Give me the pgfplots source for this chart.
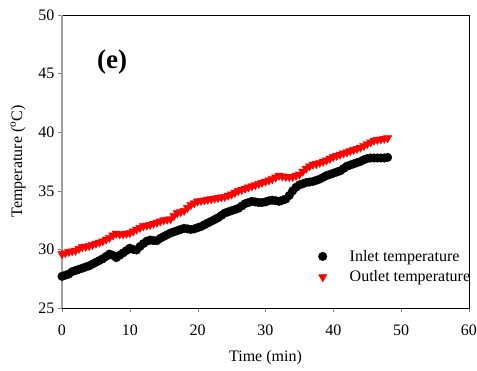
\documentclass[border=0pt]{standalone}
\usepackage{pgfplots}
\pgfplotsset{compat=1.18}
\usepackage{fontspec}
\setmainfont{Liberation Serif}
\begin{document}
\begin{tikzpicture}[x=1pt,y=1pt]
\useasboundingbox (-62,-62) rectangle (415,308);
\begin{axis}[name=ax, at={(0,0)}, anchor=south west,
  scale only axis, width=407pt, height=293pt,
  xmin=0, xmax=60, ymin=25, ymax=50,
  xtick={0,10,...,60}, ytick={25,30,...,50},
  tick align=outside, major tick length=4pt,
  xtick pos=bottom, ytick pos=left,
  /pgf/number format/assume math mode=true,
  tick label style={font=\fontsize{16}{18}\selectfont},
  xticklabel style={yshift=-9pt},
  label style={font=\fontsize{16}{18}\selectfont},
  xlabel={Time (min)}, ylabel={Temperature (\textsuperscript{o}C)},
  xlabel style={yshift=-8pt}, ylabel style={yshift=6pt},
  legend style={draw=none, fill=none, at={(0.618,0.07)}, anchor=south west,
    font=\fontsize{16}{18}\selectfont, row sep=4pt},
  legend cell align=left,
  legend image code/.code={\path[draw=none,fill=none] (-6pt,-5pt) rectangle (25pt,5pt); \draw[#1] plot coordinates {(0pt,0pt)};},
  clip=false,
]
\draw[gray!75, line width=1.3pt] (rel axis cs:0,0) -- (rel axis cs:0,1);
\addplot[only marks, mark=*, mark size=4.3pt, black] coordinates {
(0,27.7)(0.5,27.8)(1,27.9)(1.5,28.1)(2,28.2)(2.5,28.3)(3,28.4)(3.5,28.5)(4,28.6)(4.5,28.75)
(5,28.9)(5.5,29.05)(6,29.2)(6.5,29.4)(7,29.6)(7.5,29.5)(8,29.3)(8.5,29.5)(9,29.7)(9.5,29.9)
(10,30.1)(10.5,30.0)(11,29.95)(11.5,30.25)(12,30.5)(12.5,30.7)(13,30.8)(13.5,30.75)(14,30.75)(14.5,30.95)
(15,31.1)(15.5,31.25)(16,31.4)(16.5,31.5)(17,31.6)(17.5,31.7)(18,31.8)(18.5,31.75)(19,31.7)(19.5,31.75)
(20,31.85)(20.5,31.95)(21,32.1)(21.5,32.25)(22,32.4)(22.5,32.55)(23,32.7)(23.5,32.9)(24,33.1)(24.5,33.2)
(25,33.3)(25.5,33.4)(26,33.5)(26.5,33.7)(27,33.9)(27.5,34.0)(28,34.1)(28.5,34.05)(29,34.0)(29.5,34.0)
(30,34.05)(30.5,34.15)(31,34.2)(31.5,34.15)(32,34.1)(32.5,34.2)(33,34.3)(33.5,34.6)(34,35.0)(34.5,35.3)
(35,35.5)(35.5,35.6)(36,35.7)(36.5,35.75)(37,35.8)(37.5,35.9)(38,36.0)(38.5,36.15)(39,36.3)(39.5,36.4)
(40,36.5)(40.5,36.6)(41,36.7)(41.5,36.9)(42,37.1)(42.5,37.2)(43,37.3)(43.5,37.4)(44,37.5)(44.5,37.65)
(45,37.75)(45.5,37.8)(46,37.8)(46.5,37.8)(47,37.8)(47.5,37.8)(48,37.85)
};
\addlegendentry{Inlet temperature}
\addplot[only marks, mark=triangle*, mark size=4.8pt, red, mark options={rotate=180}] coordinates {
(0,29.6)(0.5,29.7)(1,29.8)(1.5,29.85)(2,29.9)(2.5,30.05)(3,30.2)(3.5,30.25)(4,30.3)(4.5,30.4)
(5,30.5)(5.5,30.6)(6,30.7)(6.5,30.85)(7,31.0)(7.5,31.2)(8,31.35)(8.5,31.3)(9,31.3)(9.5,31.35)
(10,31.4)(10.5,31.55)(11,31.7)(11.5,31.85)(12,32.0)(12.5,32.05)(13,32.1)(13.5,32.2)(14,32.3)(14.5,32.4)
(15,32.5)(15.5,32.55)(16,32.6)(16.5,32.85)(17,33.1)(17.5,33.2)(18,33.3)(18.5,33.55)(19,33.8)(19.5,33.95)
(20,34.1)(20.5,34.15)(21,34.2)(21.5,34.25)(22,34.3)(22.5,34.35)(23,34.4)(23.5,34.45)(24,34.5)(24.5,34.6)
(25,34.7)(25.5,34.85)(26,35.0)(26.5,35.1)(27,35.2)(27.5,35.3)(28,35.4)(28.5,35.5)(29,35.6)(29.5,35.7)
(30,35.8)(30.5,35.9)(31,36.0)(31.5,36.15)(32,36.3)(32.5,36.25)(33,36.2)(33.5,36.2)(34,36.2)(34.5,36.3)
(35,36.4)(35.5,36.65)(36,36.9)(36.5,37.1)(37,37.25)(37.5,37.3)(38,37.4)(38.5,37.5)(39,37.6)(39.5,37.75)
(40,37.9)(40.5,38.0)(41,38.1)(41.5,38.2)(42,38.3)(42.5,38.4)(43,38.5)(43.5,38.6)(44,38.7)(44.5,38.85)
(45,39.0)(45.5,39.15)(46,39.3)(46.5,39.35)(47,39.4)(47.5,39.45)(48,39.5)
};
\addlegendentry{Outlet temperature}
\node[font=\fontsize{27}{30}\selectfont\bfseries] at (axis cs:7.4,46.0) {(e)};
\end{axis}
\end{tikzpicture}
\end{document}
